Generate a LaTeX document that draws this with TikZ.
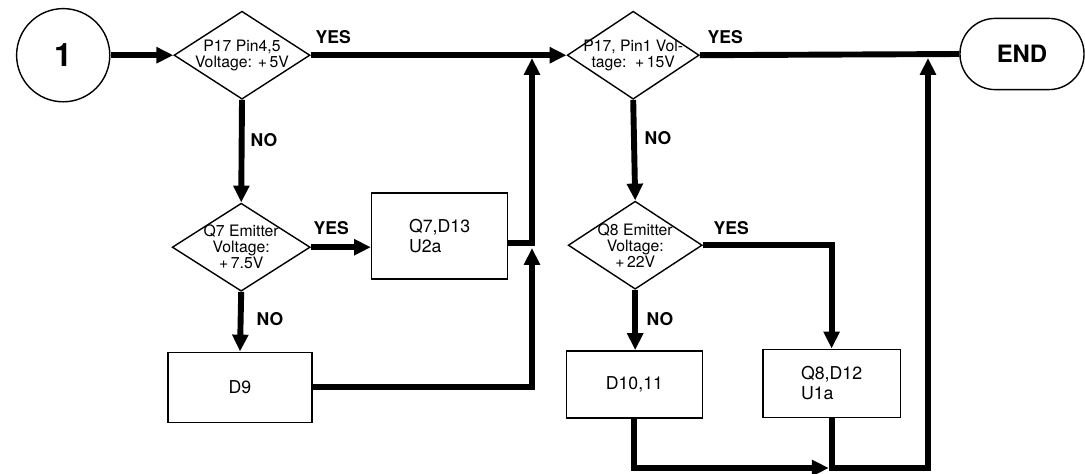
\documentclass[tikz,border=0pt]{standalone}
\usepackage{fontspec}
\setmainfont{TeX Gyre Heros}
\usetikzlibrary{shapes.geometric,arrows.meta}

\begin{document}
\begin{tikzpicture}[
  decision/.style={draw, diamond, aspect=1.55, inner sep=-7pt, minimum width=3.4cm, minimum height=2.2cm, line width=1pt, align=center, font=\fontsize{11.2}{11.4}\selectfont},
  box/.style={draw, rectangle, align=left, minimum width=3.4cm, minimum height=1.7cm, line width=1pt, font=\fontsize{12.6}{13.8}\selectfont},
  answer/.style={font=\bfseries\fontsize{12.5}{14}\selectfont},
  flow/.style={line width=4.2pt, -{Triangle[length=12pt,width=11pt]}},
  wire/.style={line width=4.2pt}
]
\useasboundingbox (0,0) rectangle (27.125,-11.825);
\node[draw, circle, minimum size=2.33cm, line width=1pt, font=\bfseries\fontsize{23}{26}\selectfont] (start) at (1.58,-1.38) {1};
\node[decision] (pin45) at (6.05,-1.38) {P17 Pin4,5\\Voltage: +\,5V};
\node[decision, minimum width=3.3cm] (pin1) at (15.83,-1.38) {P17, Pin1 Vol-\\tage: \,+\,15V};
\node[draw, rectangle, rounded corners=0.88cm, minimum width=3.1cm, minimum height=1.78cm, line width=1pt, font=\bfseries\fontsize{17}{20}\selectfont] (finish) at (25.55,-1.35) {END};
\node[decision, minimum width=3.45cm] (q7) at (6.03,-6.18) {Q7 Emitter\\Voltage:\\+\,7.5V};
\node[decision, minimum width=3.35cm] (q8) at (15.88,-6.13) {Q8 Emitter\\Voltage:\\+\,22V};
\node[box, minimum height=2.15cm] (q7d13) at (10.99,-5.9) {Q7,D13\\U2a};
\node[box, minimum width=3.6cm, minimum height=1.75cm] (d9) at (6.0,-9.68) {D9};
\node[box, minimum height=1.68cm] (d1011) at (15.86,-9.61) {D10,11};
\node[box, minimum width=3.43cm] (q8d12) at (20.79,-9.58) {Q8,D12\\U1a};
\node[answer] (yes1) at (8.33,-0.93) {YES};
\node[answer] (no1) at (6.6,-3.5) {NO};
\node[answer] (yes2) at (18.13,-0.93) {YES};
\node[answer] (no2) at (16.45,-3.45) {NO};
\node[answer] (yes3) at (8.28,-5.7) {YES};
\node[answer] (no3) at (6.75,-7.98) {NO};
\node[answer] (yes4) at (18.28,-5.7) {YES};
\node[answer] (no4) at (16.5,-7.98) {NO};
\coordinate (join1) at (13.3,-1.45);
\coordinate (join2) at (13.3,-6.2);
\coordinate (join3) at (20.72,-11.7);
\coordinate (turn4) at (23.2,-11.7);
\coordinate (join4) at (23.2,-1.45);
\draw[flow] (start) -- (pin45);
\draw[flow] (pin45.east) -- (pin1.west);
\draw[flow] (pin45.south) -- (q7.north);
\draw[flow] (q7.east) -- (q7.east -| q7d13.west);
\draw[flow] ([yshift=-0.17cm]q7d13.east) -| (join1);
\draw[flow] (q7.south) -- (d9.north);
\draw[flow] (d9.east) -| (join2);
\draw[wire] (pin1.east) -- (finish.west);
\draw[flow] (pin1.south) -- (q8.north);
\draw[flow] (q8.east) -| (q8d12.north);
\draw[flow] (q8.south) -- (q8.south |- d1011.north);
\draw[flow] (d1011.south) |- (join3);
\draw[flow] (q8d12.south) |- (turn4) -- (join4);
\end{tikzpicture}
\end{document}
